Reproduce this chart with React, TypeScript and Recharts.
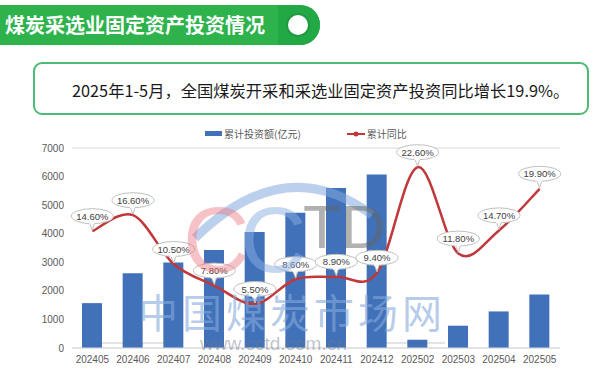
import { ComposedChart, Bar, Line, XAxis, YAxis, CartesianGrid, LabelList } from 'recharts';

const months = ['202405', '202406', '202407', '202408', '202409', '202410', '202411', '202412', '202502', '202503', '202504', '202505'];
const investment = [1570, 2620, 2990, 3430, 4060, 4730, 5600, 6070, 290, 780, 1280, 1870];
const yoyGrowth = [14.6, 16.6, 10.5, 7.8, 5.5, 8.6, 8.9, 9.4, 22.6, 11.8, 14.7, 19.9];
const leftTicks = [0, 1000, 2000, 3000, 4000, 5000, 6000, 7000];

const data = months.map((m, i) => ({ month: m, invest: investment[i], yoy: yoyGrowth[i] }));

const BAR_COLOR = '#4171b9';
const LINE_COLOR = '#c0383a';
const GREEN = '#2db24c';
const FONT = '"Noto Sans CJK SC", "Microsoft YaHei", sans-serif';

// Excel-like smoothed line (Catmull-Rom through every point)
const smoothCurve = (context: any) => {
  let pts: number[][] = [];
  return {
    areaStart() {},
    areaEnd() {},
    lineStart() {
      pts = [];
    },
    point(x: number, y: number) {
      pts.push([x, y]);
    },
    lineEnd() {
      if (!pts.length) return;
      context.moveTo(pts[0][0], pts[0][1]);
      for (let i = 0; i < pts.length - 1; i++) {
        const p0 = pts[Math.max(i - 1, 0)];
        const p1 = pts[i];
        const p2 = pts[i + 1];
        const p3 = pts[Math.min(i + 2, pts.length - 1)];
        context.bezierCurveTo(
          p1[0] + (p2[0] - p0[0]) / 6,
          p1[1] + (p2[1] - p0[1]) / 6,
          p2[0] - (p3[0] - p1[0]) / 6,
          p2[1] - (p3[1] - p1[1]) / 6,
          p2[0],
          p2[1]
        );
      }
    },
  };
};

// callout bubble above each point
const Bubble = (props: any) => {
  const { x, y, value } = props;
  const cy = y - 15;
  return (
    <g>
      <path d={`M${x - 4},${cy + 4} L${x},${y - 1} L${x + 3},${cy + 4} Z`} fill="#fff" stroke="#bfbfbf" strokeWidth={1} />
      <ellipse cx={x} cy={cy} rx={21} ry={7.5} fill="#fff" stroke="#bfbfbf" strokeWidth={1} />
      <rect x={x - 3} y={cy + 3} width={5} height={5} fill="#fff" />
      <text x={x} y={cy + 3.5} textAnchor="middle" fontSize={9.5} fill="#404040" fontFamily="Arial, sans-serif">
        {value.toFixed(2)}%
      </text>
    </g>
  );
};

const Watermark = () => (
  <svg width={600} height={374} style={{ position: 'absolute', left: 0, top: 0, pointerEvents: 'none' }}>
    <path d="M195,238 Q285,150 372,215" fill="none" stroke="rgba(130,170,220,0.55)" strokeWidth={9} />
    <text x={183} y={272} fontSize={92} fontFamily="Arial, sans-serif" fill="rgba(235,120,130,0.45)">C</text>
    <text x={240} y={272} fontSize={92} fontFamily="Arial, sans-serif" fill="rgba(140,175,225,0.5)">C</text>
    <text x={303} y={248} fontSize={62} fontFamily="Arial, sans-serif" fill="rgba(100,100,100,0.5)">TD</text>
    <text x={138} y={328} fontSize={40} letterSpacing={4} fontFamily={FONT} fill="rgba(135,170,220,0.6)">中国煤炭市场网</text>
    <text x={200} y={350} fontSize={19} fontFamily="Arial, sans-serif" fill="rgba(110,120,140,0.45)">www.cctd.com.cn</text>
    <line x1={100} y1={343} x2={165} y2={343} stroke="rgba(90,100,120,0.35)" strokeWidth={1} />
    <line x1={385} y1={343} x2={445} y2={343} stroke="rgba(90,100,120,0.35)" strokeWidth={1} />
  </svg>
);

export default function App() {
  return (
    <div style={{ position: 'absolute', left: 0, top: 0, width: 600, height: 374, background: '#fff', overflow: 'hidden', fontFamily: FONT }}>
      {/* title banner */}
      <div style={{ position: 'absolute', left: 0, top: 5, width: 320, height: 40, background: GREEN, borderRadius: '0 20px 20px 0' }} />
      <div style={{ position: 'absolute', left: 278, top: 5, width: 42, height: 40, background: '#22a845', borderRadius: '0 20px 20px 0' }} />
      <div style={{ position: 'absolute', left: 286, top: 13, width: 20, height: 20, borderRadius: 12, background: '#fff', border: '2px solid #1f9a40' }} />
      <div style={{ position: 'absolute', left: 5, top: 8, color: '#fff', fontSize: 20, fontWeight: 700, lineHeight: '34px', whiteSpace: 'nowrap' }}>
        煤炭采选业固定资产投资情况
      </div>
      {/* summary box */}
      <div style={{ position: 'absolute', left: 33, top: 62, width: 556, height: 53, border: '2px solid #4cbb73', borderRadius: 9, boxSizing: 'border-box' }} />
      <div style={{ position: 'absolute', left: 72, top: 78, fontSize: 16.3, color: '#1a1a1a', whiteSpace: 'nowrap', lineHeight: '24px' }}>
        2025年1-5月，全国煤炭开采和采选业固定资产投资同比增长19.9%。
      </div>
      {/* legend */}
      <div style={{ position: 'absolute', left: 205, top: 126, width: 200, fontSize: 10, color: '#595959', display: 'flex', alignItems: 'center', whiteSpace: 'nowrap' }}>
        <span style={{ display: 'block', flexShrink: 0, width: 17, height: 5, background: BAR_COLOR, marginRight: 2 }} />
        <span>累计投资额(亿元)</span>
        <span style={{ display: 'block', flexShrink: 0, width: 46 }} />
        <svg width={18} height={8} style={{ marginRight: 2, flexShrink: 0 }}>
          <line x1={0} y1={4} x2={18} y2={4} stroke={LINE_COLOR} strokeWidth={2} />
          <circle cx={9} cy={4} r={2.5} fill={LINE_COLOR} />
        </svg>
        <span>累计同比</span>
      </div>
      <div style={{ position: 'absolute', left: 0, top: 120 }}>
        <ComposedChart width={600} height={254} data={data} margin={{ top: 28, right: 40, bottom: 0, left: 0 }}>
          <CartesianGrid vertical={false} stroke="#d9d9d9" />
          <XAxis dataKey="month" axisLine={{ stroke: '#d9d9d9' }} tickLine={false} height={26} tick={{ fontSize: 10, fill: '#595959', fontFamily: 'Arial, sans-serif' }} interval={0} />
          <YAxis yAxisId="left" domain={[0, 7000]} ticks={leftTicks} width={72} axisLine={false} tickLine={false} tick={{ fontSize: 10, fill: '#595959', fontFamily: 'Arial, sans-serif' }} />
          <YAxis yAxisId="right" orientation="right" domain={[0, 25]} hide />
          <Bar yAxisId="left" dataKey="invest" fill={BAR_COLOR} barSize={20} isAnimationActive={false} />
          <Line yAxisId="right" dataKey="yoy" type={smoothCurve as any} stroke={LINE_COLOR} strokeWidth={2.5} dot={false} activeDot={false} isAnimationActive={false}>
            <LabelList dataKey="yoy" content={Bubble} />
          </Line>
        </ComposedChart>
      </div>
      <Watermark />
    </div>
  );
}
